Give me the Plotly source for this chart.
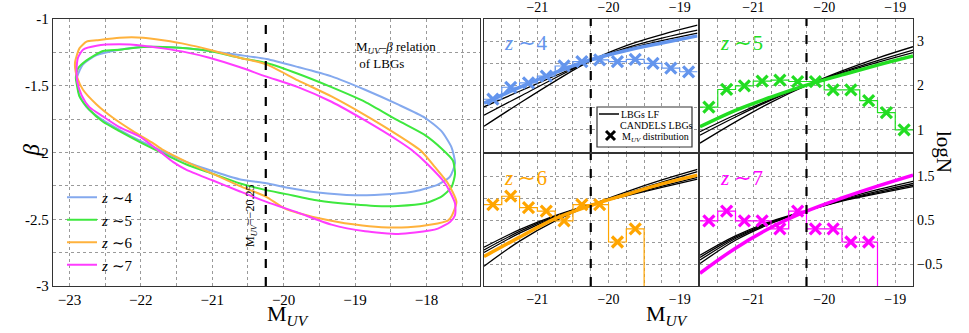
import plotly.graph_objects as go

MUV_CUT = -20.25

# ---- left panel: M_UV - beta contours ----
Z4_M = [-22.89, -22.81, -22.62, -22.30, -21.99, -21.69, -21.36, -21.04, -20.62, -20.24,
        -19.80, -19.33, -18.86, -18.40, -18.02, -17.79, -17.65, -17.60, -17.67, -17.84,
        -18.16, -18.49, -19.00, -19.52, -19.98, -20.24, -20.62, -20.99, -21.27, -21.50,
        -21.74, -22.02, -22.30, -22.58, -22.76, -22.86, -22.89]
Z4_B = [-1.43, -1.34, -1.27, -1.23, -1.21, -1.21, -1.22, -1.24, -1.27, -1.30,
        -1.36, -1.43, -1.53, -1.64, -1.74, -1.84, -1.96, -2.08, -2.18, -2.24,
        -2.29, -2.31, -2.32, -2.30, -2.26, -2.23, -2.20, -2.14, -2.09, -2.04,
        -1.98, -1.91, -1.83, -1.74, -1.66, -1.57, -1.47]

Z5_M = [-22.91, -22.88, -22.76, -22.53, -22.30, -21.97, -21.69, -21.36, -21.04, -20.62,
        -20.24, -19.80, -19.33, -18.86, -18.40, -18.02, -17.79, -17.63, -17.60, -17.65,
        -17.79, -18.02, -18.40, -18.72, -19.00, -19.52, -19.98, -20.26, -20.62, -20.99,
        -21.36, -21.64, -22.02, -22.30, -22.53, -22.72, -22.86, -22.90]
Z5_B = [-1.44, -1.37, -1.31, -1.24, -1.23, -1.21, -1.21, -1.22, -1.24, -1.29,
        -1.33, -1.41, -1.51, -1.62, -1.76, -1.87, -1.97, -2.06, -2.16, -2.26,
        -2.33, -2.38, -2.40, -2.40, -2.39, -2.36, -2.31, -2.28, -2.23, -2.16,
        -2.09, -2.02, -1.92, -1.84, -1.77, -1.68, -1.58, -1.48]

Z6_M = [-22.92, -22.86, -22.76, -22.62, -22.30, -21.97, -21.69, -21.36, -21.04, -20.62,
        -20.24, -19.80, -19.33, -18.86, -18.40, -18.07, -17.88, -17.70, -17.58, -17.65,
        -17.70, -17.93, -18.26, -18.63, -19.00, -19.52, -19.98, -20.25, -20.62, -20.99,
        -21.36, -21.69, -21.83, -22.11, -22.39, -22.62, -22.81, -22.89, -22.92]
Z6_B = [-1.32, -1.22, -1.17, -1.16, -1.14, -1.14, -1.16, -1.19, -1.23, -1.29,
        -1.34, -1.46, -1.58, -1.72, -1.87, -1.99, -2.11, -2.23, -2.37, -2.48,
        -2.51, -2.54, -2.56, -2.56, -2.54, -2.49, -2.42, -2.33, -2.25, -2.16,
        -2.07, -1.98, -1.93, -1.84, -1.74, -1.64, -1.53, -1.44, -1.37]

Z7_M = [-22.90, -22.88, -22.81, -22.62, -22.30, -21.97, -21.69, -21.36, -21.04, -20.62,
        -20.25, -19.80, -19.33, -18.86, -18.40, -18.21, -17.98, -17.74, -17.60, -17.60,
        -17.67, -17.84, -18.16, -18.40, -18.86, -19.33, -19.80, -20.24, -20.62, -20.99,
        -21.36, -21.55, -21.74, -22.02, -22.30, -22.53, -22.72, -22.83, -22.89]
Z7_B = [-1.39, -1.29, -1.23, -1.20, -1.19, -1.20, -1.22, -1.25, -1.29, -1.36,
        -1.43, -1.51, -1.62, -1.76, -1.91, -1.98, -2.09, -2.23, -2.38, -2.47,
        -2.52, -2.57, -2.60, -2.61, -2.59, -2.54, -2.45, -2.37, -2.29, -2.21,
        -2.13, -2.07, -1.99, -1.88, -1.81, -1.73, -1.66, -1.57, -1.47]

# ---- right panels: M_UV distribution (log N per bin) and LF curves ----
BIN_CENTERS = [-21.625, -21.375, -21.125, -20.875, -20.625, -20.375,
               -20.125, -19.875, -19.625, -19.375, -19.125, -18.875]
BIN_WIDTH = 0.25
LOGN_Z4 = [1.69, 1.96, 2.06, 2.21, 2.44, 2.54, 2.58, 2.54, 2.59, 2.50, 2.39, 2.31]
LOGN_Z5 = [1.51, 1.91, 1.99, 2.10, 2.12, 2.09, 2.09, 1.90, 1.90, 1.66, 1.39, 1.00]
LOGN_Z6 = [0.85, 1.04, 0.78, 0.70, 0.48, 0.85, 0.85, 0.00, 0.30, None, None, None]
LOGN_Z7 = [0.48, 0.70, 0.48, 0.48, 0.30, 0.70, 0.30, 0.30, 0.00, 0.00, None, None]
EMPTY_BIN = -9.0  # empty bins (log 0) fall below the axis

LF_M = [-21.75, -21.25, -20.75, -20.25, -19.75, -19.25, -18.75]
LF_Z4 = [1.60, 1.96, 2.29, 2.58, 2.79, 2.96, 3.12]
LF_Z4_BLACK = [[1.08, 1.60, 2.10, 2.56, 2.90, 3.15, 3.36],
               [1.33, 1.75, 2.17, 2.56, 2.85, 3.07, 3.25],
               [1.52, 1.87, 2.22, 2.56, 2.82, 3.01, 3.18]]
LF_Z5 = [1.07, 1.44, 1.74, 2.01, 2.24, 2.46, 2.665]
LF_Z5_BLACK = [[0.70, 1.18, 1.62, 2.00, 2.33, 2.62, 2.875],
               [0.88, 1.29, 1.67, 2.00, 2.30, 2.56, 2.80],
               [0.96, 1.34, 1.69, 2.01, 2.28, 2.52, 2.74]]
LF_Z6 = [-0.33, 0.11, 0.53, 0.83, 1.08, 1.32, 1.52]
LF_Z6_BLACK = [[-0.55, 0.02, 0.48, 0.84, 1.14, 1.41, 1.65],
               [-0.24, 0.20, 0.56, 0.84, 1.10, 1.36, 1.60],
               [-0.18, 0.24, 0.58, 0.85, 1.06, 1.27, 1.47],
               [-0.12, 0.28, 0.60, 0.85, 1.05, 1.24, 1.43]]
LF_Z7 = [-0.71, -0.14, 0.33, 0.70, 1.00, 1.27, 1.52]
LF_Z7_BLACK = [[-0.49, 0.04, 0.42, 0.71, 0.97, 1.19, 1.38],
               [-0.41, 0.08, 0.44, 0.71, 0.95, 1.15, 1.33],
               [-0.35, 0.11, 0.45, 0.71, 0.94, 1.12, 1.29],
               [-0.30, 0.14, 0.47, 0.71, 0.93, 1.10, 1.26]]

LEFT_YTICKS = [-3, -2.5, -2, -1.5, -1]
LEFT_YTEXT = ["-3", "-2.5", "-2", "-1.5", "-1"]

ZNUM = ["4", "5", "6", "7"]
COL_LIGHT = ["#84a9ee", "#3ee83e", "#ffb23c", "#ff3cff"]
COL = ["#6495ED", "#22dd22", "#FFA500", "#FF00FF"]

W, H = 969, 333
FONT = "Liberation Serif"


def px_x(v):
    return v / W


def px_y(v):
    return 1 - v / H


fig = go.Figure()

# left panel contours
ells = [(Z4_M, Z4_B), (Z5_M, Z5_B), (Z6_M, Z6_B), (Z7_M, Z7_B)]
for i, (m, b) in enumerate(ells):
    fig.add_trace(go.Scatter(
        x=m + m[:1], y=b + b[:1], mode="lines", xaxis="x", yaxis="y",
        line=dict(color=COL_LIGHT[i], width=2, shape="spline", smoothing=0.6),
        name=f"<i>z</i> \u223c{ZNUM[i]}", legend="legend"))

# right panels
edges = [c - BIN_WIDTH / 2 for c in BIN_CENTERS] + [BIN_CENTERS[-1] + BIN_WIDTH / 2]
panels = [("x2", "y2", LOGN_Z4, LF_Z4, LF_Z4_BLACK),
          ("x3", "y3", LOGN_Z5, LF_Z5, LF_Z5_BLACK),
          ("x4", "y4", LOGN_Z6, LF_Z6, LF_Z6_BLACK),
          ("x5", "y5", LOGN_Z7, LF_Z7, LF_Z7_BLACK)]
for i, (xa, ya, logn, lf, blacks) in enumerate(panels):
    for bl in blacks:
        fig.add_trace(go.Scatter(x=LF_M, y=bl, mode="lines", xaxis=xa, yaxis=ya,
                                 line=dict(color="black", width=1.3, shape="spline"),
                                 showlegend=False))
    fig.add_trace(go.Scatter(x=LF_M, y=lf, mode="lines", xaxis=xa, yaxis=ya,
                             line=dict(color=COL[i], width=3.5, shape="spline"),
                             showlegend=False))
    steps = [v if v is not None else EMPTY_BIN for v in logn]
    fig.add_trace(go.Scatter(x=edges, y=steps + steps[-1:], mode="lines",
                             xaxis=xa, yaxis=ya,
                             line=dict(color=COL[i], width=1.2, shape="hv"),
                             showlegend=False))
    fig.add_trace(go.Scatter(x=BIN_CENTERS, y=logn, mode="markers",
                             xaxis=xa, yaxis=ya,
                             marker=dict(symbol="x-thin", size=11,
                                         line=dict(color=COL[i], width=3.2)),
                             showlegend=False))

grid = dict(showgrid=True, gridcolor="#9a9a9a", griddash="dot", gridwidth=1,
            showline=True, mirror=True, linecolor="#333", linewidth=1.4,
            zeroline=False, ticks="", automargin=False)

# domains (pixels -> paper)
L_X = [px_x(53), px_x(480)]
ROW_Y = [px_y(286), px_y(19)]
C1 = [px_x(484), px_x(697.5)]
C2 = [px_x(700), px_x(913)]
TOP = [px_y(152), px_y(19)]
BOT = [px_y(286), px_y(154)]

fig.update_layout(
    width=W, height=H, margin=dict(l=0, r=0, t=0, b=0, autoexpand=False),
    paper_bgcolor="white", plot_bgcolor="white",
    font=dict(family=FONT, size=14, color="black"),
    xaxis=dict(grid, domain=L_X, range=[-23.23, -17.25], tick0=-23, dtick=1,
               minor=dict(dtick=0.5, showgrid=True, gridcolor="#9a9a9a", griddash="dot"),
               tickfont=dict(size=15), anchor="y"),
    yaxis=dict(grid, domain=ROW_Y, range=[-3, -1], tickvals=LEFT_YTICKS, ticktext=LEFT_YTEXT,
               minor=dict(dtick=0.25, showgrid=True, gridcolor="#9a9a9a", griddash="dot"),
               tickfont=dict(size=15), anchor="x"),
    legend=dict(x=px_x(62), y=px_y(181), xanchor="left", yanchor="top",
                font=dict(size=15, family=FONT), bgcolor="rgba(0,0,0,0)",
                tracegroupgap=0),
)

xr = dict(range=[-21.75, -18.75], tick0=-21, dtick=1, tickfont=dict(size=14),
          minor=dict(dtick=0.25, showgrid=True, gridcolor="#9a9a9a", griddash="dot"))
ytop = dict(range=[0.5, 3.5], tick0=1, dtick=1, tickfont=dict(size=14),
            minor=dict(dtick=0.5, showgrid=True, gridcolor="#9a9a9a", griddash="dot"))
ybot = dict(range=[-1, 2], tick0=-0.5, dtick=1, tickfont=dict(size=14),
            minor=dict(dtick=0.5, showgrid=True, gridcolor="#9a9a9a", griddash="dot"))

fig.update_layout(
    xaxis2=dict(grid, **xr, domain=C1, anchor="y2", side="top"),
    yaxis2=dict(grid, **ytop, domain=TOP, anchor="x2", showticklabels=False),
    xaxis3=dict(grid, **xr, domain=C2, anchor="y3", side="top"),
    yaxis3=dict(grid, **ytop, domain=TOP, anchor="x3", side="right"),
    xaxis4=dict(grid, **xr, domain=C1, anchor="y4"),
    yaxis4=dict(grid, **ybot, domain=BOT, anchor="x4", showticklabels=False),
    xaxis5=dict(grid, **xr, domain=C2, anchor="y5"),
    yaxis5=dict(grid, **ybot, domain=BOT, anchor="x5", side="right"),
)

# dashed M_UV cut in every panel
for xa, ya in [("x", "y"), ("x2", "y2"), ("x3", "y3"), ("x4", "y4"), ("x5", "y5")]:
    fig.add_shape(type="line", xref=xa, yref=f"{ya} domain", x0=MUV_CUT, x1=MUV_CUT,
                  y0=0, y1=1, line=dict(color="black", width=2.2, dash="dash"))

ann = []
# panel labels
for i, (xa, ya) in enumerate([("x2", "y2"), ("x3", "y3"), ("x4", "y4"), ("x5", "y5")]):
    ann.append(dict(xref=f"{xa} domain", yref=f"{ya} domain", x=0.085, y=0.82,
                    xanchor="left", yanchor="middle", showarrow=False,
                    text=f"<i>z</i> \u223c{ZNUM[i]}", font=dict(size=21, color=COL[i])))
ann += [
    dict(xref="paper", yref="paper", x=px_x(354), y=px_y(55), xanchor="left",
         yanchor="middle", showarrow=False, align="left",
         text="M<sub><i>UV</i></sub>\u2013<i>\u03b2</i> relation<br> of LBGs",
         font=dict(size=13)),
    dict(xref="paper", yref="paper", x=px_x(241), y=px_y(249), showarrow=False,
         textangle=-90, text="M<sub><i>UV</i></sub>=\u221220.25", font=dict(size=12)),
    dict(xref="paper", yref="paper", x=px_x(265), y=px_y(331), showarrow=False,
         text="M<sub><i>UV</i></sub>", font=dict(size=22)),
    dict(xref="paper", yref="paper", x=px_x(690), y=px_y(331), showarrow=False,
         text="M<sub><i>UV</i></sub>", font=dict(size=22)),
    dict(xref="paper", yref="paper", x=px_x(16), y=px_y(150), showarrow=False,
         textangle=-90, text="<i>\u03b2</i>", font=dict(size=23)),
    dict(xref="paper", yref="paper", x=px_x(958), y=px_y(152), showarrow=False,
         textangle=90, text="logN", font=dict(size=21)),
    # legend box of the right panels
    dict(xref="paper", yref="paper", x=px_x(619), y=px_y(114), xanchor="left",
         showarrow=False, text="LBGs LF", font=dict(size=10)),
    dict(xref="paper", yref="paper", x=px_x(618), y=px_y(125.5), xanchor="left",
         showarrow=False, text="CANDELS LBGs", font=dict(size=10)),
    dict(xref="paper", yref="paper", x=px_x(620), y=px_y(137.5), xanchor="left",
         showarrow=False, text="M<sub><i>UV</i></sub> distribution", font=dict(size=10)),
]
fig.update_layout(annotations=ann)

fig.add_shape(type="rect", xref="paper", yref="paper", x0=px_x(597), x1=px_x(692),
              y0=px_y(147), y1=px_y(107), line=dict(color="#333", width=1.2),
              fillcolor="white", layer="above")
fig.add_shape(type="line", xref="paper", yref="paper", x0=px_x(599), x1=px_x(619),
              y0=px_y(114), y1=px_y(114), line=dict(color="black", width=1.5))
fig.add_shape(type="line", xref="paper", yref="paper", x0=px_x(606), x1=px_x(615),
              y0=px_y(131), y1=px_y(140), line=dict(color="black", width=3))
fig.add_shape(type="line", xref="paper", yref="paper", x0=px_x(606), x1=px_x(615),
              y0=px_y(140), y1=px_y(131), line=dict(color="black", width=3))

# the page body has a default 8px margin; drop it so the figure sits at (0, 0)
fig.write_html("out.html", config={"displayModeBar": False},
               post_script="document.body.style.margin='0px';")
